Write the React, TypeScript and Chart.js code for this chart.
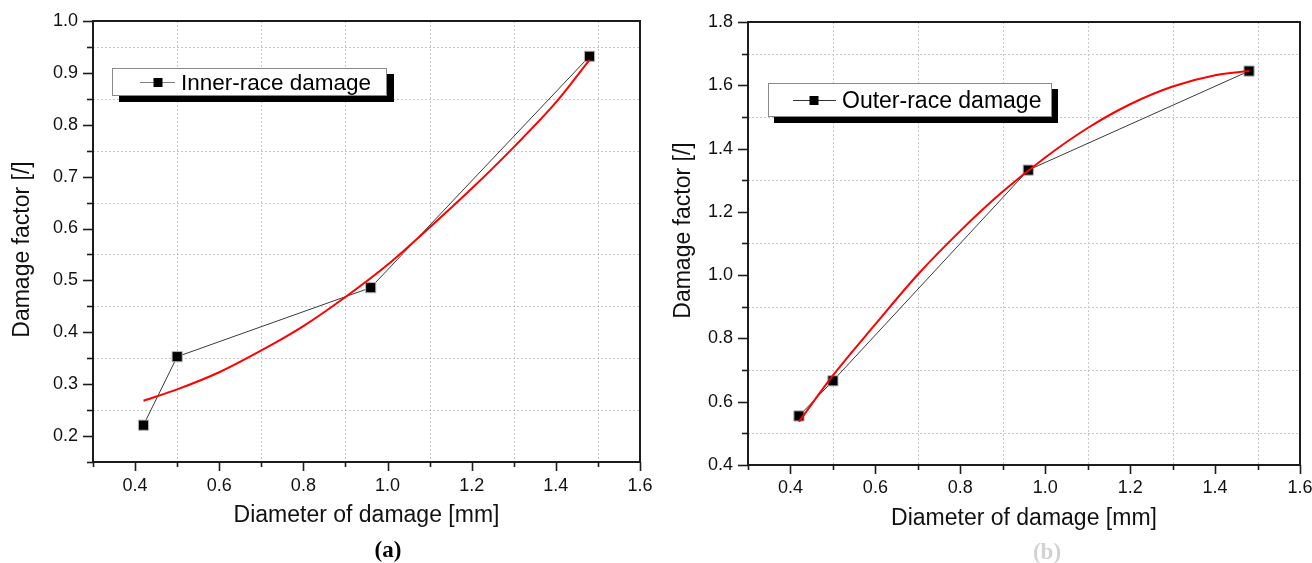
import React, { useEffect, useRef } from "react";
import { Chart, registerables } from "chart.js";

Chart.register(...registerables);

const FONT = '"Liberation Sans", Arial, Helvetica, sans-serif';

// ---- x axis (shared) ----
const X_MIN = 0.3;
const X_MAX = 1.6;
const X_MAJOR_TICKS = [0.4, 0.6, 0.8, 1.0, 1.2, 1.4, 1.6];
const X_MINOR_TICKS = [0.3, 0.5, 0.7, 0.9, 1.1, 1.3, 1.5];

// ---- measured points ----
const DIAMETER_MM = [0.42, 0.5, 0.96, 1.48];
const INNER_RACE_FACTOR = [0.221, 0.353, 0.486, 0.932];
const OUTER_RACE_FACTOR = [0.555, 0.666, 1.332, 1.645];

// ---- fitted curves ----
const FIT_DIAMETER_MM = [0.42, 0.5, 0.6, 0.7, 0.8, 0.9, 1.0, 1.1, 1.2, 1.3, 1.4, 1.48];
const INNER_RACE_FIT = [0.268, 0.29, 0.323, 0.365, 0.412, 0.468, 0.53, 0.602, 0.677, 0.757, 0.843, 0.925];
const OUTER_RACE_FIT = [0.537, 0.683, 0.845, 1.002, 1.14, 1.264, 1.372, 1.465, 1.54, 1.596, 1.632, 1.645];

// ---- y axes ----
const INNER_Y_MIN = 0.15;
const INNER_Y_MAX = 1.0;
const INNER_Y_MAJOR_TICKS = [0.2, 0.3, 0.4, 0.5, 0.6, 0.7, 0.8, 0.9, 1.0];
const INNER_Y_MINOR_TICKS = [0.15, 0.25, 0.35, 0.45, 0.55, 0.65, 0.75, 0.85, 0.95];
const OUTER_Y_MIN = 0.4;
const OUTER_Y_MAX = 1.8;
const OUTER_Y_MAJOR_TICKS = [0.4, 0.6, 0.8, 1.0, 1.2, 1.4, 1.6, 1.8];
const OUTER_Y_MINOR_TICKS = [0.5, 0.7, 0.9, 1.1, 1.3, 1.5, 1.7];

const X_TITLE = "Diameter of damage [mm]";
const Y_TITLE = "Damage factor [/]";

const has = (arr: number[], v: number) => arr.some((m) => Math.abs(m - v) < 1e-6);

type PanelCfg = {
  fit: number[];
  pts: number[];
  yMin: number;
  yMax: number;
  yMajor: number[];
  yMinor: number[];
  label: string;
  padTop: number;
  padRight: number;
  yWidth: number;
  xHeight: number;
  yTitleX: number;
  yTitleShift: number;
  yTickPad: number;
  xTickPad: number;
  xTitlePadBottom: number;
  legend: {
    x: number; y: number; w: number; h: number; sx: number; sy: number;
    l1: number; l2: number; mx: number; ms: number; tx: number; font: number; lineColor: string;
  };
};

function makePlugin(cfg: PanelCfg) {
  return {
    id: "frameTicksLegend",
    beforeDatasetsDraw(chart: any) {
      const { ctx, chartArea: a, scales } = chart;
      const x = scales.x, y = scales.y;
      ctx.save();
      ctx.strokeStyle = "#c6c6c6";
      ctx.lineWidth = 1;
      ctx.setLineDash([2, 2]);
      X_MINOR_TICKS.forEach((v) => {
        if (v <= X_MIN + 1e-6 || v >= X_MAX - 1e-6) return;
        const px = Math.round(x.getPixelForValue(v)) + 0.5;
        ctx.beginPath();
        ctx.moveTo(px, a.top);
        ctx.lineTo(px, a.bottom);
        ctx.stroke();
      });
      cfg.yMinor.forEach((v) => {
        if (v <= cfg.yMin + 1e-6 || v >= cfg.yMax - 1e-6) return;
        const py = Math.round(y.getPixelForValue(v)) + 0.5;
        ctx.beginPath();
        ctx.moveTo(a.left, py);
        ctx.lineTo(a.right, py);
        ctx.stroke();
      });
      ctx.restore();
    },
    afterDatasetsDraw(chart: any) {
      const { ctx, chartArea: a, scales } = chart;
      const x = scales.x, y = scales.y;
      ctx.save();
      ctx.setLineDash([]);
      ctx.strokeStyle = "#1c1c1c";
      ctx.lineWidth = 2;
      ctx.strokeRect(a.left, a.top, a.right - a.left, a.bottom - a.top);
      ctx.lineWidth = 1.6;
      [...cfg.yMajor, ...cfg.yMinor].forEach((v) => {
        const py = Math.round(y.getPixelForValue(v)) + 0.5;
        const len = has(cfg.yMajor, v) ? 10 : 6;
        ctx.beginPath();
        ctx.moveTo(a.left - len, py);
        ctx.lineTo(a.left, py);
        ctx.stroke();
      });
      [...X_MAJOR_TICKS, ...X_MINOR_TICKS].forEach((v) => {
        const px = Math.round(x.getPixelForValue(v)) + 0.5;
        const len = has(X_MAJOR_TICKS, v) ? 9 : 5;
        ctx.beginPath();
        ctx.moveTo(px, a.bottom);
        ctx.lineTo(px, a.bottom + len);
        ctx.stroke();
      });
      // y axis title
      ctx.translate(cfg.yTitleX, (a.top + a.bottom) / 2 + cfg.yTitleShift);
      ctx.rotate(-Math.PI / 2);
      ctx.fillStyle = "#111";
      ctx.font = `23px ${FONT}`;
      ctx.textAlign = "center";
      ctx.textBaseline = "middle";
      ctx.fillText(Y_TITLE, 0, 0);
      ctx.restore();
    },
    afterDraw(chart: any) {
      const ctx = chart.ctx;
      const L = cfg.legend;
      ctx.save();
      ctx.fillStyle = "#000";
      ctx.fillRect(L.x + L.sx, L.y + L.sy, L.w, L.h);
      ctx.fillStyle = "#fff";
      ctx.fillRect(L.x, L.y, L.w, L.h);
      ctx.strokeStyle = "#8a8a8a";
      ctx.lineWidth = 1;
      ctx.strokeRect(L.x + 0.5, L.y + 0.5, L.w - 1, L.h - 1);
      const cy = Math.round(L.y + L.h / 2) + 0.5;
      ctx.strokeStyle = L.lineColor;
      ctx.beginPath();
      ctx.moveTo(L.l1, cy);
      ctx.lineTo(L.l2, cy);
      ctx.stroke();
      ctx.fillStyle = "#000";
      ctx.fillRect(L.mx - L.ms / 2, cy - L.ms / 2, L.ms, L.ms);
      ctx.font = `${L.font}px ${FONT}`;
      ctx.textAlign = "left";
      ctx.textBaseline = "middle";
      ctx.fillText(cfg.label, L.tx, cy + 1);
      ctx.restore();
    },
  };
}

function Panel({ cfg, left }: { cfg: PanelCfg; left: number }) {
  const ref = useRef<HTMLCanvasElement | null>(null);
  useEffect(() => {
    if (!ref.current) return;
    const fitData = FIT_DIAMETER_MM.map((d, i) => ({ x: d, y: cfg.fit[i] }));
    const ptData = DIAMETER_MM.map((d, i) => ({ x: d, y: cfg.pts[i] }));
    const chart = new Chart(ref.current, {
      type: "line",
      data: {
        datasets: [
          {
            label: "fit",
            data: fitData,
            borderColor: "#ff0000",
            borderWidth: 2,
            pointRadius: 0,
            cubicInterpolationMode: "monotone",
            fill: false,
          },
          {
            label: cfg.label,
            data: ptData,
            borderColor: "#3a3a3a",
            borderWidth: 1,
            tension: 0,
            pointStyle: "rect",
            pointRadius: 7.2,
            pointBackgroundColor: "#000",
            pointBorderColor: "#b5b5b5",
            pointBorderWidth: 1,
            fill: false,
          },
        ],
      },
      options: {
        animation: false,
        responsive: true,
        maintainAspectRatio: false,
        layout: { padding: { left: 0, right: cfg.padRight, top: cfg.padTop, bottom: 0 } },
        plugins: { legend: { display: false }, tooltip: { enabled: false }, title: { display: false } },
        scales: {
          x: {
            type: "linear",
            min: X_MIN,
            max: X_MAX,
            grid: { display: false, drawTicks: false, tickLength: 0 },
            border: { display: false },
            afterBuildTicks: (s: any) => {
              s.ticks = [...X_MINOR_TICKS, ...X_MAJOR_TICKS].sort((a, b) => a - b).map((v) => ({ value: v }));
            },
            afterFit: (s: any) => {
              s.height = cfg.xHeight;
              s.paddingLeft = 0;
              s.paddingRight = 0;
            },
            ticks: {
              autoSkip: false,
              maxRotation: 0,
              minRotation: 0,
              padding: cfg.xTickPad,
              color: "#111",
              font: { size: 18, family: FONT },
              callback: (v: any) => (has(X_MAJOR_TICKS, Number(v)) ? Number(v).toFixed(1) : ""),
            },
            title: {
              display: true,
              text: X_TITLE,
              color: "#111",
              font: { size: 23, family: FONT },
              padding: { top: 0, bottom: cfg.xTitlePadBottom },
            },
          },
          y: {
            type: "linear",
            min: cfg.yMin,
            max: cfg.yMax,
            grid: { display: false, drawTicks: false, tickLength: 0 },
            border: { display: false },
            afterBuildTicks: (s: any) => {
              s.ticks = [...cfg.yMinor, ...cfg.yMajor].sort((a, b) => a - b).map((v) => ({ value: v }));
            },
            afterFit: (s: any) => {
              s.width = cfg.yWidth;
              s.paddingTop = 0;
              s.paddingBottom = 0;
            },
            ticks: {
              autoSkip: false,
              padding: cfg.yTickPad,
              color: "#111",
              font: { size: 18, family: FONT },
              callback: (v: any) => (has(cfg.yMajor, Number(v)) ? Number(v).toFixed(1) : ""),
            },
            title: { display: false },
          },
        },
      },
      plugins: [makePlugin(cfg)],
    } as any);
    return () => chart.destroy();
  }, [cfg]);
  return (
    <div style={{ position: "absolute", left, top: 0, width: 656, height: 563 }}>
      <canvas ref={ref} style={{ display: "block" }} />
    </div>
  );
}

const INNER_CFG: PanelCfg = {
  fit: INNER_RACE_FIT,
  pts: INNER_RACE_FACTOR,
  yMin: INNER_Y_MIN,
  yMax: INNER_Y_MAX,
  yMajor: INNER_Y_MAJOR_TICKS,
  yMinor: INNER_Y_MINOR_TICKS,
  label: "Inner-race damage",
  padTop: 21,
  padRight: 16,
  yWidth: 93,
  xHeight: 101,
  yTitleX: 23,
  yTitleShift: 8,
  yTickPad: 15,
  xTickPad: 13,
  xTitlePadBottom: 34,
  legend: { x: 112, y: 68, w: 275, h: 28, sx: 7, sy: 6, l1: 140, l2: 175, mx: 158, ms: 9, tx: 181, font: 22.5, lineColor: "#808080" },
};

const OUTER_CFG: PanelCfg = {
  fit: OUTER_RACE_FIT,
  pts: OUTER_RACE_FACTOR,
  yMin: OUTER_Y_MIN,
  yMax: OUTER_Y_MAX,
  yMajor: OUTER_Y_MAJOR_TICKS,
  yMinor: OUTER_Y_MINOR_TICKS,
  label: "Outer-race damage",
  padTop: 22,
  padRight: 12,
  yWidth: 92,
  xHeight: 98,
  yTitleX: 28,
  yTitleShift: -13,
  yTickPad: 15,
  xTickPad: 12,
  xTitlePadBottom: 31,
  legend: { x: 112, y: 83, w: 284, h: 34, sx: 6, sy: 6, l1: 137, l2: 180, mx: 158, ms: 9, tx: 186, font: 23, lineColor: "#333333" },
};

const captionStyle: React.CSSProperties = {
  position: "absolute",
  top: 538,
  transform: "translateX(-50%)",
  font: 'bold 23px "Liberation Serif", "Times New Roman", serif',
  lineHeight: "24px",
  whiteSpace: "nowrap",
};

export default function App() {
  return (
    <div style={{ position: "absolute", left: 0, top: 0, width: 1312, height: 563, background: "#fff", overflow: "hidden" }}>
      <Panel cfg={INNER_CFG} left={0} />
      <Panel cfg={OUTER_CFG} left={656} />
      <div style={{ ...captionStyle, left: 388, color: "#000" }}>(a)</div>
      <div style={{ ...captionStyle, left: 1047, top: 540, color: "#d2d2d2" }}>(b)</div>
    </div>
  );
}
